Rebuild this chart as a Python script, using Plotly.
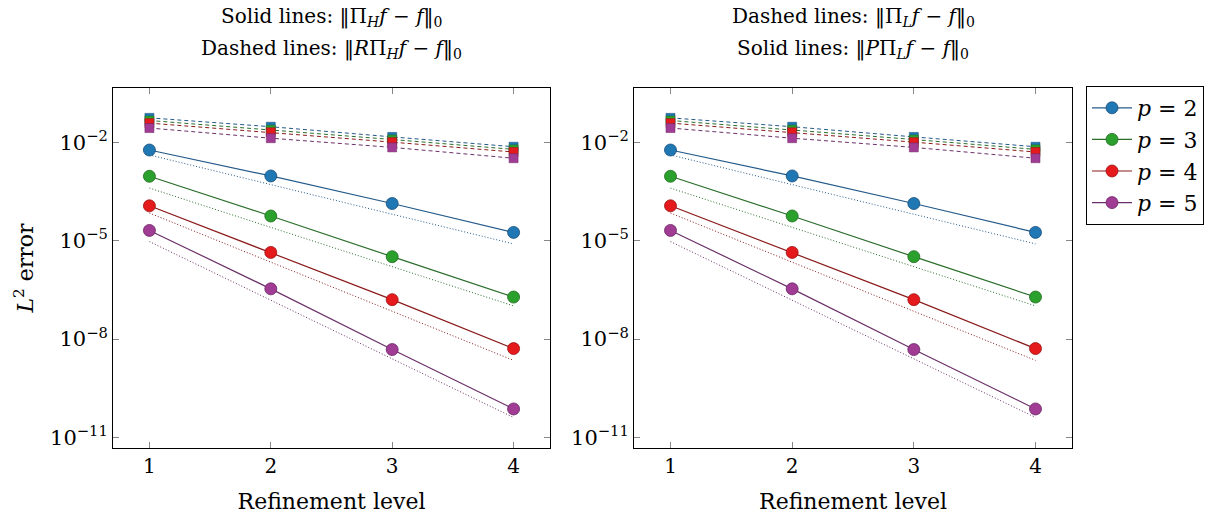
import plotly.graph_objects as go

levels = [1, 2, 3, 4]
p_labels = ["2", "3", "4", "5"]

# log10 of the errors
solid_log = {
    "2": [-2.24, -3.03, -3.87, -4.75],
    "3": [-3.04, -4.25, -5.49, -6.72],
    "4": [-3.94, -5.36, -6.80, -8.29],
    "5": [-4.69, -6.47, -8.32, -10.13],
}
dashed_log = {
    "2": [-1.26, -1.53, -1.84, -2.14],
    "3": [-1.34, -1.62, -1.92, -2.22],
    "4": [-1.42, -1.70, -2.00, -2.30],
    "5": [-1.57, -1.88, -2.16, -2.49],
}
dotted_log = {
    "2": [-2.39, -3.29, -4.20, -5.10],
    "3": [-3.40, -4.60, -5.80, -6.99],
    "4": [-4.16, -5.66, -7.16, -8.65],
    "5": [-5.03, -6.82, -8.60, -10.39],
}

marker_colors = {"2": "#1f77b4", "3": "#2ca02c", "4": "#e41a1c", "5": "#a03c94"}
line_colors = {"2": "#245a8a", "3": "#2a6e2a", "4": "#8b1a1a", "5": "#6b3068"}
edge_colors = {"2": "#184d78", "3": "#1e6b1e", "4": "#9b1010", "5": "#6a2463"}

y_tickvals = [1e-2, 1e-5, 1e-8, 1e-11]
y_ticktext = ["10<sup>−2</sup>", "10<sup>−5</sup>", "10<sup>−8</sup>", "10<sup>−11</sup>"]

FONT = "DejaVu Serif"
W, H = 1228, 524


def px_x(v):
    return v / W


def px_y(v):
    return 1 - v / H


fig = go.Figure()

for ax_i, (xa, ya) in enumerate([("x", "y"), ("x2", "y2")]):
    for p in p_labels:
        fig.add_trace(go.Scatter(
            x=levels, y=[10 ** v for v in dashed_log[p]], xaxis=xa, yaxis=ya,
            mode="lines+markers", showlegend=False,
            line=dict(color=line_colors[p], width=1, dash="4px,3px"),
            marker=dict(symbol="square", size=9, color=marker_colors[p],
                        line=dict(color=edge_colors[p], width=0.5)),
        ))
    for p in p_labels:
        fig.add_trace(go.Scatter(
            x=levels, y=[10 ** v for v in dotted_log[p]], xaxis=xa, yaxis=ya,
            mode="lines", showlegend=False,
            line=dict(color=line_colors[p], width=1, dash="1px,2px"),
        ))
    for p in p_labels:
        fig.add_trace(go.Scatter(
            x=levels, y=[10 ** v for v in solid_log[p]], xaxis=xa, yaxis=ya,
            mode="lines+markers", name=f"<i>p</i> = {p}",
            showlegend=(ax_i == 0),
            line=dict(color=line_colors[p], width=1.2),
            marker=dict(symbol="circle", size=12, color=marker_colors[p],
                        line=dict(color=edge_colors[p], width=0.8)),
        ))

xcommon = dict(
    range=[0.7, 4.3], tickvals=levels, ticktext=[str(v) for v in levels],
    ticks="inside", ticklen=6, tickcolor="#888888", showline=True, linecolor="black",
    linewidth=1, mirror="allticks", showgrid=False, zeroline=False, automargin=False,
    tickfont=dict(family=FONT, size=20, color="black"),
    title=dict(text="Refinement level", font=dict(family=FONT, size=22, color="black"), standoff=16),
)
ycommon = dict(
    type="log", range=[-11.32, -0.35], tickvals=y_tickvals, ticktext=y_ticktext,
    ticks="inside", ticklen=6, tickcolor="#888888", showline=True, linecolor="black",
    linewidth=1, mirror="allticks", showgrid=False, zeroline=False, automargin=False,
    tickfont=dict(family=FONT, size=21, color="black"),
)

ydom = [px_y(448), px_y(88)]
fig.update_layout(
    width=W, height=H,
    margin=dict(l=0, r=0, t=0, b=0, autoexpand=False),
    paper_bgcolor="white", plot_bgcolor="white",
    font=dict(family=FONT, color="black"),
    xaxis=dict(domain=[px_x(113), px_x(550)], anchor="y", **xcommon),
    yaxis=dict(domain=ydom, anchor="x",
               title=dict(text="<i>L</i><sup>2</sup> error", font=dict(family=FONT, size=22, color="black"), standoff=10),
               **ycommon),
    xaxis2=dict(domain=[px_x(634), px_x(1072)], anchor="y2", **xcommon),
    yaxis2=dict(domain=ydom, anchor="x2", **ycommon),
    legend=dict(x=px_x(1086), y=px_y(86), xanchor="left", yanchor="top",
                bordercolor="black", borderwidth=1, bgcolor="white",
                font=dict(family=FONT, size=22, color="black"),
                tracegroupgap=0, itemwidth=40),
    showlegend=True,
    hovermode=False,
)


def title(xc, lines):
    for i, t in enumerate(lines):
        fig.add_annotation(x=xc, y=px_y(17 + 32 * i), xref="paper", yref="paper",
                           text=t, showarrow=False, xanchor="center", yanchor="middle",
                           font=dict(family=FONT, size=20, color="black"))


title(px_x((113 + 550) / 2), [
    "Solid lines: ‖Π<sub><i>H</i></sub><i>f</i> − <i>f</i>‖<sub>0</sub>",
    "Dashed lines: ‖<i>R</i>Π<sub><i>H</i></sub><i>f</i> − <i>f</i>‖<sub>0</sub>",
])
title(px_x((634 + 1072) / 2), [
    "Dashed lines: ‖Π<sub><i>L</i></sub><i>f</i> − <i>f</i>‖<sub>0</sub>",
    "Solid lines: ‖<i>P</i>Π<sub><i>L</i></sub><i>f</i> − <i>f</i>‖<sub>0</sub>",
])

fig.write_html("out.html", config={"displayModeBar": False},
               post_script="document.body.style.margin='0';document.body.style.padding='0';")
